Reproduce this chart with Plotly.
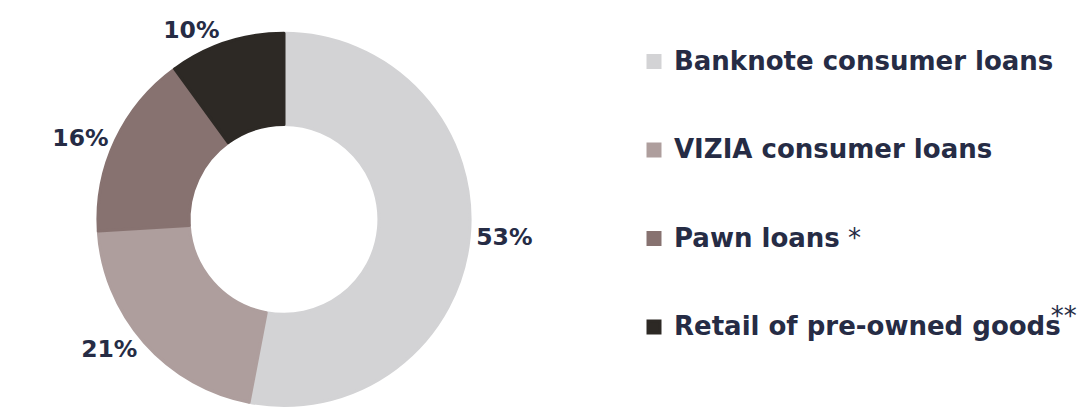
import plotly.graph_objects as go

categories = ["Banknote consumer loans", "VIZIA consumer loans", "Pawn loans", "Retail of pre-owned goods"]
shares = [53, 21, 16, 10]
colors = ["#D3D3D5", "#AE9E9D", "#877270", "#2D2925"]
footnotes = ["", "", "*", "**"]

TEXT = "#262C45"
W, H = 1086, 411

# donut geometry (pixels)
cx, cy, R = 284, 220.5, 187


def legend_label(name, note):
    if note == "**":
        body = (f'{name[:-1]}<span style="letter-spacing:-10px">{name[-1]}</span>'
                f'<sup><span style="font-size:26px;font-weight:normal">{note}</span></sup>')
    elif note:
        body = f'{name}<span style="font-weight:normal"> {note}</span>'
    else:
        body = name
    return f'<br><span style="font-size:26px">{body}</span><br>'


labels = [legend_label(c, n) for c, n in zip(categories, footnotes)]

fig = go.Figure(
    go.Pie(
        labels=labels,
        values=shares,
        sort=False,
        direction="clockwise",
        rotation=0,
        hole=0.51,
        marker=dict(colors=colors, line=dict(color=colors, width=3)),
        textposition="outside",
        texttemplate="%{percent:.0%}",
        outsidetextfont=dict(family="DejaVu Sans", size=23.5, color=TEXT, weight="bold"),
        domain=dict(x=[(cx - R) / W, (cx + R) / W], y=[(H - cy - R) / H, (H - cy + R) / H]),
        showlegend=True,
        hoverinfo="label+percent",
    )
)

fig.update_layout(
    width=W,
    height=H,
    margin=dict(l=0, r=0, t=0, b=0),
    paper_bgcolor="white",
    plot_bgcolor="white",
    legend=dict(
        x=634 / W,
        xanchor="left",
        y=(H - 12.25) / H,
        yanchor="top",
        font=dict(family="DejaVu Sans", size=21.92, color=TEXT, weight="bold"),
        bgcolor="rgba(0,0,0,0)",
        traceorder="normal",
    ),
)

fig.write_html(
    "out.html",
    config={"displayModeBar": False},
    post_script="document.body.style.margin='0px';",
)
